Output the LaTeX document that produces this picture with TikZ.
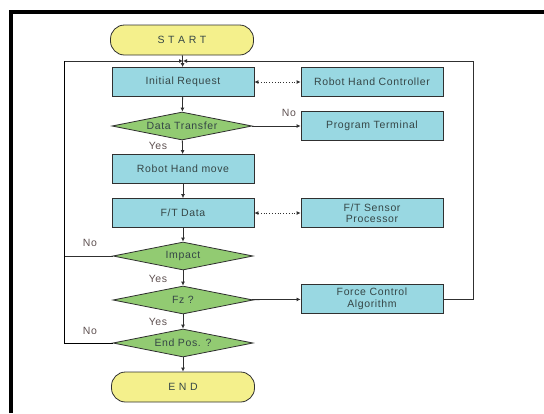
\documentclass[tikz,border=0pt]{standalone}
\usepackage{fontspec}
\setmainfont[LetterSpace=6]{Liberation Sans}
\usetikzlibrary{arrows.meta, positioning, shapes.geometric, calc}
\definecolor{cbox}{HTML}{99D8E2}
\definecolor{cdec}{HTML}{92CB72}
\definecolor{cterm}{HTML}{F4F08C}
\definecolor{ctext}{HTML}{354646}
\definecolor{clab}{HTML}{5E5050}
\definecolor{cline}{HTML}{303030}
\tikzset{
  every picture/.style={font=\fontsize{10.5}{11.5}\selectfont, line width=0.8pt},
  box/.style={draw=cline, fill=cbox, minimum width=142pt, minimum height=29pt, align=center, text=ctext, inner sep=1pt},
  decision/.style={diamond, aspect=5, draw=cline, fill=cdec, minimum width=140pt, minimum height=28pt, inner sep=0pt, text=ctext},
  terminal/.style={draw=cline, fill=cterm, rounded corners=14pt, minimum width=143pt, minimum height=30pt, text=ctext},
  arrow/.style={-{Latex[length=4pt, width=4pt]}, draw=cline},
  link/.style={{Latex[length=4pt, width=4pt]}-{Latex[length=4pt, width=4pt]}, draw=cline, dotted},
  lab/.style={text=clab},
}

\begin{document}
\begin{tikzpicture}[x=1pt, y=-1pt]
  \useasboundingbox (0,0) rectangle (544,413);
  % frame
  \draw[line width=4pt] (11,413) -- (11,12) -- (544,12);
  % main column
  \node[terminal] (start) at (182,40) {S T A R T};
  \node[box] (init) at (183,82) {Initial Request};
  \node[decision] (transfer) at (182,126) {Data Transfer};
  \node[box] (move) at (183,169) {Robot Hand move};
  \node[box] (ftdata) at (183,213) {F/T Data};
  \node[decision] (impact) at (183,256) {Impact};
  \node[decision] (fz) at (183,300) {Fz ?};
  \node[decision] (endpos) at (183,343) {End Pos. ?};
  \node[terminal] (end) at (183,387) {E N D};
  % side column
  \node[box] (ctrl) at (372,82) {Robot Hand Controller};
  \node[box] (term) at (372,126) {Program Terminal};
  \node[box] (sensor) at (372,213) {F/T Sensor\\Processor};
  \node[box] (force) at (372,299) {Force Control\\Algorithm};
  % loop corners
  \coordinate (join) at (183,61);
  \coordinate (lefttop) at (64,61);
  \coordinate (righttop) at (473,61);
  % flow
  \draw[arrow] (start) -- (init);
  \draw[arrow] (init) -- (transfer);
  \draw[arrow] (transfer) -- (move);
  \draw[arrow] (move) -- (ftdata);
  \draw[arrow] (ftdata) -- (impact);
  \draw[arrow] (impact) -- (fz);
  \draw[arrow] (fz) -- (endpos);
  \draw[arrow] (endpos) -- (end);
  \draw[arrow] (transfer) -- (term);
  \draw[arrow] (fz) -- (force);
  \draw[link] (init) -- (ctrl);
  \draw[link] (ftdata) -- (sensor);
  % feedback
  \draw[arrow] (impact.west) -| (lefttop) -- (join);
  \draw (endpos.west) -| (lefttop);
  \draw[arrow] (force.east) -| (righttop) -- (join);
  % labels
  \node[lab] (no1) at (289,113) {No};
  \node[lab] (yes1) at (158,146) {Yes};
  \node[lab] (no2) at (90,243) {No};
  \node[lab] (yes2) at (158,279) {Yes};
  \node[lab] (yes3) at (158,322) {Yes};
  \node[lab] (no3) at (90,331) {No};
\end{tikzpicture}
\end{document}
